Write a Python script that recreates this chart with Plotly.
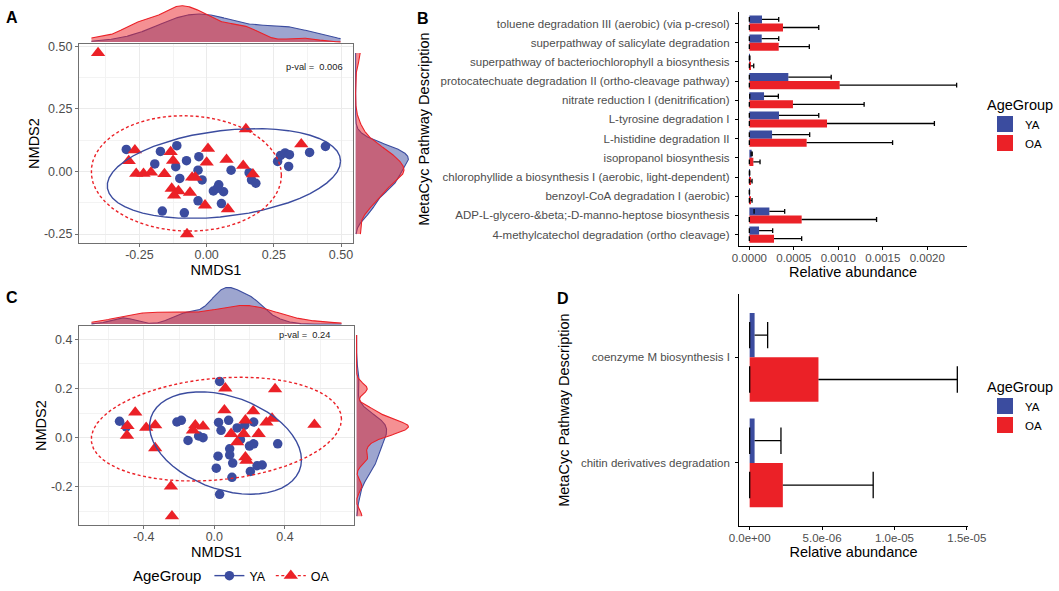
import numpy as np
import plotly.graph_objects as go

# ---------------------------------------------------------------- data
groups = ["YA", "OA"]

# Panel A : NMDS ordination
a_ya_x = [-0.299, -0.172, -0.111, -0.193, -0.115, -0.075, -0.029, -0.032, -0.100, -0.017,
          0.091, 0.045, 0.025, 0.063, 0.039, -0.032, 0.055, -0.165, -0.083, 0.158,
          0.167, 0.183, 0.264, 0.275, 0.292, 0.308, 0.305, 0.383, 0.442]
a_ya_y = [0.088, 0.080, 0.103, 0.030, 0.019, 0.043, 0.059, 0.005, -0.028, -0.034,
          0.005, -0.053, -0.078, -0.081, -0.068, -0.117, -0.128, -0.158, -0.165, -0.005,
          -0.034, -0.047, 0.040, 0.064, 0.074, 0.067, 0.020, 0.076, 0.100]
a_oa_x = [-0.404, 0.146, 0.352, -0.267, -0.290, -0.262, -0.235, -0.207, -0.157, -0.134,
          -0.125, 0.005, 0.000, 0.074, 0.136, 0.172, -0.054, -0.042, -0.130, -0.105,
          -0.121, -0.062, -0.006, 0.079, -0.073]
a_oa_y = [0.473, 0.169, 0.109, 0.085, 0.042, -0.009, -0.009, -0.004, -0.010, 0.078,
          0.043, 0.091, 0.036, 0.047, 0.023, -0.011, -0.024, -0.024, -0.068, -0.078,
          -0.095, -0.084, -0.135, -0.150, -0.250]
a_pval = "p-val =  0.006"
a_pval_xy = [0.40, 0.415]
a_xticks = [-0.25, 0.0, 0.25, 0.50]
a_xtext = ["-0.25", "0.00", "0.25", "0.50"]
a_yticks = [-0.25, 0.0, 0.25, 0.50]
a_ytext = ["-0.25", "0.00", "0.25", "0.50"]

# Panel C : NMDS ordination
c_ya_x = [0.030, -0.537, -0.499, -0.212, -0.187, -0.149, -0.089, -0.064, 0.024, 0.081,
          0.038, 0.129, 0.172, 0.223, 0.148, 0.087, 0.087, 0.021, 0.104, 0.011,
          0.100, 0.199, 0.223, 0.359, 0.204, 0.242, 0.271, 0.030]
c_ya_y = [0.229, 0.067, 0.044, 0.064, 0.071, -0.011, 0.007, 0.000, 0.062, 0.071,
          0.030, 0.040, 0.051, 0.064, -0.008, -0.045, -0.070, -0.075, -0.103, -0.124,
          -0.161, -0.034, -0.025, -0.025, -0.137, -0.114, -0.111, -0.230]
c_oa_x = [0.062, 0.344, -0.448, -0.492, -0.495, -0.386, -0.335, -0.335, -0.108, -0.064,
          -0.121, 0.057, 0.220, 0.176, 0.295, 0.327, 0.095, 0.166, 0.251, 0.129,
          0.176, 0.182, 0.567, -0.246, -0.240]
c_oa_y = [0.201, 0.198, 0.103, 0.048, 0.009, 0.041, 0.051, -0.042, 0.051, 0.046,
          0.030, 0.112, 0.108, 0.071, 0.062, 0.078, 0.016, 0.016, 0.016, -0.018,
          -0.079, -0.093, 0.053, -0.198, -0.319]
c_pval = "p-val =  0.24"
c_pval_xy = [0.51, 0.418]
c_xticks = [-0.4, 0.0, 0.4]
c_xtext = ["-0.4", "0.0", "0.4"]
c_yticks = [-0.2, 0.0, 0.2, 0.4]
c_ytext = ["-0.2", "0.0", "0.2", "0.4"]

# Panel B : pathway relative abundance (bottom -> top)
b_paths = ["4-methylcatechol degradation (ortho cleavage)",
           "ADP-L-glycero-&beta;-D-manno-heptose biosynthesis",
           "benzoyl-CoA degradation I (aerobic)",
           "chlorophyllide a biosynthesis I (aerobic, light-dependent)",
           "isopropanol biosynthesis",
           "L-histidine degradation II",
           "L-tyrosine degradation I",
           "nitrate reduction I (denitrification)",
           "protocatechuate degradation II (ortho-cleavage pathway)",
           "superpathway of bacteriochlorophyll a biosynthesis",
           "superpathway of salicylate degradation",
           "toluene degradation III (aerobic) (via p-cresol)"]
b_ya_mean = [0.000109, 0.000225, 0.000001, 0.000002, 0.000026, 0.000255,
             0.000333, 0.000165, 0.000438, 0.000003, 0.000139, 0.000142]
b_ya_sd = [0.000153, 0.000172, 0.000001, 0.000002, 0.000006, 0.000423,
           0.000447, 0.000161, 0.000482, 0.000003, 0.000191, 0.000188]
b_oa_mean = [0.000277, 0.000588, 0.000012, 0.000010, 0.000045, 0.000644,
             0.000873, 0.000490, 0.001015, 0.000015, 0.000330, 0.000378]
b_oa_sd = [0.000311, 0.000842, 0.000018, 0.000020, 0.000075, 0.000966,
           0.001207, 0.000800, 0.001315, 0.000034, 0.000344, 0.000402]
b_xticks = [0.0, 0.0005, 0.0010, 0.0015, 0.0020]
b_xtext = ["0.0000", "0.0005", "0.0010", "0.0015", "0.0020"]

# Panel D
d_paths = ["chitin derivatives degradation", "coenzyme M biosynthesis I"]
d_ya_mean = [3.4e-7, 3.4e-7]
d_ya_sd = [1.82e-6, 0.90e-6]
d_oa_mean = [2.29e-6, 4.75e-6]
d_oa_sd = [6.24e-6, 9.59e-6]
d_xticks = [0.0, 5e-6, 1e-5, 1.5e-5]
d_xtext = ["0.0e+00", "5.0e-06", "1.0e-05", "1.5e-05"]

# ---------------------------------------------------------------- style
W, H = 1059, 591
BLUE = "#3B4C9F"
RED = "#EB2127"
BLUE_F = "rgba(59,76,159,0.5)"
RED_F = "rgba(235,33,39,0.5)"
FONT = "Liberation Sans, Arial, sans-serif"
GRAY_T = "#4D4D4D"


def pxx(a, b):
    return [a / W, b / W]


def pxy(a, b):
    return [1 - b / H, 1 - a / H]


# ---------------------------------------------------------------- helpers (ggplot-like stats)
def cov_trob(pts, nu=5, maxit=25, tol=0.01):
    n, p = pts.shape
    wt = np.ones(n)
    loc = pts.mean(axis=0)
    w = np.sqrt(wt)
    X = pts - loc
    for _ in range(maxit):
        w0 = w
        X = pts - loc
        A = np.sqrt(w / w.sum())[:, None] * X
        _, d, vt = np.linalg.svd(A, full_matrices=False)
        wX = X @ vt.T @ np.diag(1 / d)
        Q = (wX ** 2).sum(axis=1)
        w = (wt * (nu + p)) / (nu + Q)
        loc = (w[:, None] * pts).sum(axis=0) / w.sum()
        if np.all(np.abs(w - w0) < tol):
            break
    sX = np.sqrt(w)[:, None] * X
    cov = sX.T @ sX / wt.sum()
    return loc, cov


def stat_ellipse(x, y, level=0.95, segments=51):
    pts = np.column_stack([x, y]).astype(float)
    loc, cov = cov_trob(pts)
    n = len(x)
    dfn, dfd = 2, n - 1
    qf = dfd / dfn * ((1 - level) ** (-dfn / dfd) - 1)
    radius = np.sqrt(dfn * qf)
    L = np.linalg.cholesky(cov)
    ang = np.arange(segments + 1) * 2 * np.pi / segments
    circ = np.column_stack([np.cos(ang), np.sin(ang)])
    e = loc + radius * (circ @ L.T)
    return e[:, 0], e[:, 1]


def nrd0(v):
    v = np.asarray(v, float)
    sd = v.std(ddof=1)
    q75, q25 = np.percentile(v, [75, 25])
    lo = min(sd, (q75 - q25) / 1.34)
    return 0.9 * lo * len(v) ** (-0.2)


def kde(v, grid):
    v = np.asarray(v, float)
    bw = nrd0(v)
    z = (grid[:, None] - v[None, :]) / bw
    return np.exp(-0.5 * z ** 2).sum(axis=1) / (len(v) * bw * np.sqrt(2 * np.pi))


def expand(lo, hi, m=0.05):
    d = hi - lo
    return [lo - m * d, hi + m * d]


fig = go.Figure()
layout = dict()
annotations = []


def nmds_panel(k, xa, ya, xo, yo, pval, pval_xy, xt, xtt, yt, ytt, xminor, yminor,
               dom_x, dom_y, top_y, right_x):
    m, t, r = k, k + 1, k + 2

    def an(i):
        return "" if i == 1 else str(i)
    ex_ya, ey_ya = stat_ellipse(xa, ya)
    ex_oa, ey_oa = stat_ellipse(xo, yo)
    allx = np.concatenate([xa, xo, ex_ya, ex_oa, [pval_xy[0]]])
    ally = np.concatenate([ya, yo, ey_ya, ey_oa, [pval_xy[1]]])
    xlo, xhi = allx.min(), allx.max()
    ylo, yhi = ally.min(), ally.max()
    xr = expand(xlo, xhi)
    yr = expand(ylo, yhi)

    fig.add_trace(go.Scatter(x=xa, y=ya, mode="markers", name="YA", showlegend=False,
                             marker=dict(symbol="circle", size=9.5, color=BLUE),
                             xaxis="x" + an(m), yaxis="y" + an(m)))
    fig.add_trace(go.Scatter(x=xo, y=yo, mode="markers", name="OA", showlegend=False,
                             marker=dict(symbol="triangle-up", size=12.5, color=RED),
                             xaxis="x" + an(m), yaxis="y" + an(m)))
    fig.add_trace(go.Scatter(x=ex_ya, y=ey_ya, mode="lines", showlegend=False,
                             line=dict(color=BLUE, width=1.4),
                             xaxis="x" + an(m), yaxis="y" + an(m)))
    fig.add_trace(go.Scatter(x=ex_oa, y=ey_oa, mode="lines", showlegend=False,
                             line=dict(color=RED, width=1.4, dash="3px,2.5px"),
                             xaxis="x" + an(m), yaxis="y" + an(m)))

    gx = np.linspace(xlo, xhi, 512)
    gy = np.linspace(ylo, yhi, 512)
    dxa, dxo = kde(xa, gx), kde(xo, gx)
    dya, dyo = kde(ya, gy), kde(yo, gy)
    for d, lc, fc in [(dxa, BLUE, BLUE_F), (dxo, RED, RED_F)]:
        fig.add_trace(go.Scatter(x=gx, y=d, mode="lines", fill="tozeroy", fillcolor=fc,
                                 line=dict(color=lc, width=1.1), showlegend=False,
                                 xaxis="x" + an(t), yaxis="y" + an(t)))
    for d, lc, fc in [(dya, BLUE, BLUE_F), (dyo, RED, RED_F)]:
        fig.add_trace(go.Scatter(x=d, y=gy, mode="lines", fill="tozerox", fillcolor=fc,
                                 line=dict(color=lc, width=1.1), showlegend=False,
                                 xaxis="x" + an(r), yaxis="y" + an(r)))
    mx = max(dxa.max(), dxo.max())
    my = max(dya.max(), dyo.max())

    main_common = dict(showgrid=True, gridcolor="#EBEBEB", gridwidth=1.1, zeroline=False,
                       showline=True, linecolor="#707070", linewidth=1.1, mirror=True,
                       ticks="outside", ticklen=3, tickcolor="#707070", tickwidth=1,
                       tickfont=dict(size=12.5, color=GRAY_T, family=FONT),
                       automargin=False)
    layout["xaxis" + an(m)] = dict(main_common, domain=pxx(*dom_x), range=xr,
                                   anchor="y" + an(m), tickvals=xt, ticktext=xtt,
                                   ticklabelstandoff=-3,
                                   minor=dict(tickvals=xminor, showgrid=True, gridcolor="#F3F3F3",
                                              gridwidth=0.7, ticks=""),
                                   title=dict(text="NMDS1", font=dict(size=14.5, color="#000", family=FONT),
                                              standoff=0))
    layout["yaxis" + an(m)] = dict(main_common, domain=pxy(*dom_y), range=yr,
                                   anchor="x" + an(m), tickvals=yt, ticktext=ytt,
                                   minor=dict(tickvals=yminor, showgrid=True, gridcolor="#F3F3F3",
                                              gridwidth=0.7, ticks=""),
                                   title=dict(text="NMDS2", font=dict(size=14.5, color="#000", family=FONT),
                                              standoff=0))
    hidden = dict(visible=False, showgrid=False, zeroline=False, automargin=False)
    layout["xaxis" + an(t)] = dict(hidden, domain=pxx(*dom_x), range=xr, anchor="y" + an(t))
    layout["yaxis" + an(t)] = dict(hidden, domain=pxy(*top_y), range=[-0.05 * mx, 1.05 * mx],
                                   anchor="x" + an(t))
    layout["xaxis" + an(r)] = dict(hidden, domain=pxx(*right_x), range=[-0.05 * my, 1.05 * my],
                                   anchor="y" + an(r))
    layout["yaxis" + an(r)] = dict(hidden, domain=pxy(*dom_y), range=yr, anchor="x" + an(r))

    annotations.append(dict(x=pval_xy[0], y=pval_xy[1], xref="x" + an(m), yref="y" + an(m),
                            text=pval, showarrow=False,
                            font=dict(size=9.3, color="#1A1A1A", family=FONT)))


nmds_panel(1, a_ya_x, a_ya_y, a_oa_x, a_oa_y, a_pval, a_pval_xy,
           a_xticks, a_xtext, a_yticks, a_ytext,
           [-0.375, -0.125, 0.125, 0.375], [-0.125, 0.125, 0.375],
           dom_x=(79, 353), dom_y=(44, 244), top_y=(4, 44), right_x=(353, 411))
nmds_panel(4, c_ya_x, c_ya_y, c_oa_x, c_oa_y, c_pval, c_pval_xy,
           c_xticks, c_xtext, c_yticks, c_ytext,
           [-0.6, -0.2, 0.2, 0.6], [-0.3, -0.1, 0.1, 0.3],
           dom_x=(79, 354), dom_y=(327, 527), top_y=(286.5, 327), right_x=(354, 411))

# legend entries for the NMDS panels (bottom legend)
fig.add_trace(go.Scatter(x=[None], y=[None], mode="lines+markers", name="YA", legend="legend",
                         line=dict(color=BLUE, width=1.4), marker=dict(symbol="circle", size=9.5, color=BLUE),
                         xaxis="x4", yaxis="y4"))
fig.add_trace(go.Scatter(x=[None], y=[None], mode="lines+markers", name="OA", legend="legend",
                         line=dict(color=RED, width=1.4, dash="3px,2.5px"),
                         marker=dict(symbol="triangle-up", size=12.5, color=RED),
                         xaxis="x4", yaxis="y4"))


# ---------------------------------------------------------------- bar panels
def bar_panel(k, paths, ya_mean, ya_sd, oa_mean, oa_sd, xt, xtt, dom_x, dom_y, legend_id):
    s = str(k)
    bw = 0.42
    cap = 0.125
    idx = np.arange(len(paths), dtype=float)
    pos = {"YA": idx + bw / 2, "OA": idx - bw / 2}
    means = {"YA": np.array(ya_mean), "OA": np.array(oa_mean)}
    sds = {"YA": np.array(ya_sd), "OA": np.array(oa_sd)}
    cols = {"YA": BLUE, "OA": RED}
    upper_all = []
    for g in groups:
        m, sd, p = means[g], sds[g], pos[g]
        upper_all.append(m + sd)
        fig.add_trace(go.Bar(x=m, y=p, orientation="h", width=bw, name=g,
                             marker=dict(color=cols[g], line=dict(width=0)),
                             showlegend=False, xaxis="x" + s, yaxis="y" + s))
    for g in groups:
        m, sd, p = means[g], sds[g], pos[g]
        lo = np.maximum(m - sd, 0)
        up = m + sd
        xs, ys = [], []
        for mi, ui, li, pi in zip(m, up, lo, p):
            xs += [mi, ui, None, ui, ui, None, li, li, None]
            ys += [pi, pi, None, pi - cap, pi + cap, None, pi - cap, pi + cap, None]
        fig.add_trace(go.Scatter(x=xs, y=ys, mode="lines", showlegend=False,
                                 line=dict(color="#000000", width=1.3),
                                 xaxis="x" + s, yaxis="y" + s))
    # legend keys (filled squares, as in the ggplot fill legend)
    for g in groups:
        fig.add_trace(go.Scatter(x=[None], y=[None], mode="markers", name=g, legend=legend_id,
                                 marker=dict(symbol="square", size=20, color=cols[g]),
                                 xaxis="x" + s, yaxis="y" + s))
    mx = max(u.max() for u in upper_all)
    axis_common = dict(showgrid=False, zeroline=False, showline=True, linecolor="#000000",
                       linewidth=1.3, ticks="outside", ticklen=3, tickcolor="#000000", tickwidth=1,
                       tickfont=dict(size=11.5, color=GRAY_T, family=FONT), automargin=False)
    layout["xaxis" + s] = dict(axis_common, domain=pxx(*dom_x), range=[-0.05 * mx, 1.05 * mx],
                               anchor="y" + s, tickvals=xt, ticktext=xtt, ticklabelstandoff=-2,
                               title=dict(text="Relative abundance",
                                          font=dict(size=14.5, color="#000", family=FONT), standoff=1))
    layout["yaxis" + s] = dict(axis_common, domain=pxy(*dom_y), range=[-0.6, len(paths) - 0.4],
                               anchor="x" + s, tickvals=idx, ticktext=paths, ticklabelstandoff=3,
                               title=dict(text="MetaCyc Pathway Description",
                                          font=dict(size=14.5, color="#000", family=FONT), standoff=7))


bar_panel(7, b_paths, b_ya_mean, b_ya_sd, b_oa_mean, b_oa_sd, b_xticks, b_xtext,
          dom_x=(739, 967), dom_y=(12, 247), legend_id="legend2")
bar_panel(8, d_paths, d_ya_mean, d_ya_sd, d_oa_mean, d_oa_sd, d_xticks, d_xtext,
          dom_x=(739.3, 967.7), dom_y=(295, 528), legend_id="legend3")

# panel letters
for lab, x0, y0 in [("A", 12, 18), ("B", 423, 19), ("C", 12, 299), ("D", 563, 300)]:
    annotations.append(dict(x=x0 / W, y=1 - y0 / H, xref="paper", yref="paper", text="<b>%s</b>" % lab,
                            showarrow=False, xanchor="center", yanchor="middle",
                            font=dict(size=16, color="#000", family=FONT)))

leg_common = dict(bgcolor="rgba(0,0,0,0)", traceorder="normal")
layout.update(
    width=W, height=H,
    margin=dict(l=0, r=0, t=0, b=0),
    paper_bgcolor="white", plot_bgcolor="white",
    barmode="overlay",
    font=dict(family=FONT, color="#000"),
    annotations=annotations,
    legend=dict(leg_common, orientation="h", x=131 / W, y=1 - 578 / H, xanchor="left", yanchor="middle",
                title=dict(text="AgeGroup", side="left", font=dict(size=15, family=FONT, color="#000")),
                font=dict(size=12.5, family=FONT, color="#000"), itemwidth=30),
    legend2=dict(leg_common, x=985 / W, y=1 - 91 / H, xanchor="left", yanchor="top",
                 title=dict(text="AgeGroup", font=dict(size=14.5, family=FONT, color="#000")),
                 font=dict(size=11.5, family=FONT, color="#000"), itemsizing="trace", itemwidth=30),
    legend3=dict(leg_common, x=985 / W, y=1 - 374 / H, xanchor="left", yanchor="top",
                 title=dict(text="AgeGroup", font=dict(size=14.5, family=FONT, color="#000")),
                 font=dict(size=11.5, family=FONT, color="#000"), itemsizing="trace", itemwidth=30),
)
fig.update_layout(**layout)
fig.write_html("out.html", config={"displayModeBar": False},
               post_script="document.body.style.margin='0';")
